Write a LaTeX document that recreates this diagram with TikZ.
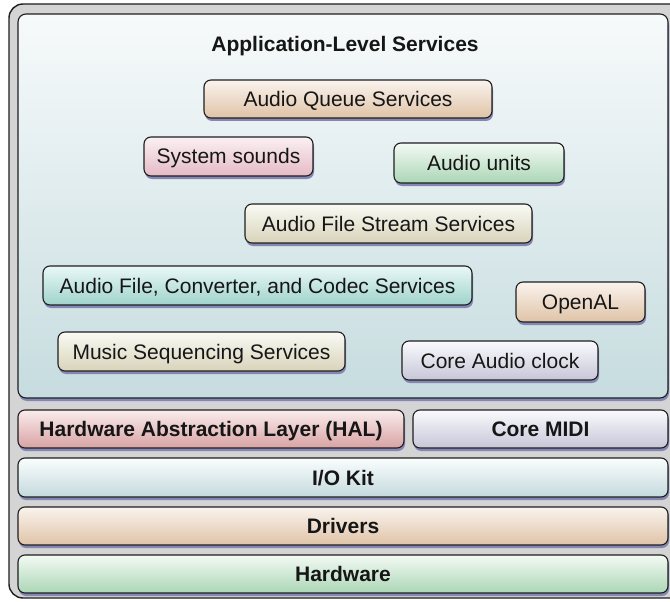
\documentclass[tikz,border=0pt]{standalone}
\usepackage{fontspec}
\setmainfont{Liberation Sans}
\usetikzlibrary{shadows}
\definecolor{txt}{HTML}{161616}
\definecolor{edge}{HTML}{1E1E1E}
\definecolor{shad}{HTML}{8486B4}
\definecolor{outerfill}{HTML}{D4D4D4}
\definecolor{apptop}{HTML}{F7FAFB}
\definecolor{appbot}{HTML}{C6DCDF}
\definecolor{tantop}{HTML}{FAF3EE}
\definecolor{tanbot}{HTML}{DFC3A6}
\definecolor{pinktop}{HTML}{FAF0F3}
\definecolor{pinkbot}{HTML}{E5BAC6}
\definecolor{greentop}{HTML}{F3FAF4}
\definecolor{greenbot}{HTML}{ABD6B5}
\definecolor{khakitop}{HTML}{FAFAF4}
\definecolor{khakibot}{HTML}{D8D3BA}
\definecolor{tealtop}{HTML}{EAF8F7}
\definecolor{tealbot}{HTML}{9FD3CB}
\definecolor{lavtop}{HTML}{FAFAFD}
\definecolor{lavbot}{HTML}{C6C6D8}
\definecolor{redtop}{HTML}{FAECEC}
\definecolor{redbot}{HTML}{D8A2A3}
\definecolor{bluetop}{HTML}{FAFDFD}
\definecolor{bluebot}{HTML}{C4DADE}
\tikzset{
  blob/.style={rounded corners=7pt, draw=edge, line width=1.1pt,
    inner sep=0pt, outer sep=0pt, text=txt, font=\fontsize{21}{24}\selectfont,
    text height=15pt, text depth=0pt,
    drop shadow={shadow xshift=1pt, shadow yshift=-3pt, fill=shad, opacity=1}},
  tan/.style={top color=tantop, bottom color=tanbot},
  pink/.style={top color=pinktop, bottom color=pinkbot},
  green/.style={top color=greentop, bottom color=greenbot},
  khaki/.style={top color=khakitop, bottom color=khakibot},
  teal/.style={top color=tealtop, bottom color=tealbot},
  lav/.style={top color=lavtop, bottom color=lavbot},
  red/.style={top color=redtop, bottom color=redbot},
  blue/.style={top color=bluetop, bottom color=bluebot},
  layer/.style={blob, font=\fontsize{21}{24}\selectfont\bfseries},
}
\begin{document}
\begin{tikzpicture}[x=1pt,y=-1pt]
\useasboundingbox (0,0) rectangle (670,602);
% outer frame
\node[draw=edge, line width=1.4pt, fill=outerfill, rounded corners=14pt,
      minimum width=690pt, minimum height=594pt, inner sep=0pt] (outer) at (354,301) {};
% application-level box
\node[rounded corners=8pt, draw=edge, line width=1.1pt, top color=apptop, bottom color=appbot,
      minimum width=650pt, minimum height=384pt, inner sep=0pt,
      drop shadow={shadow xshift=1pt, shadow yshift=-3pt, fill=shad, opacity=1}] (app) at (343,206) {};
\node[text=txt, font=\fontsize{21}{24}\selectfont\bfseries, inner sep=0pt,
      text height=15pt, text depth=0pt] (title) at (345,44) {Application-Level Services};
% services
\node[blob, tan, minimum width=288pt, minimum height=38pt] (aqs) at (348,99) {Audio Queue Services};
\node[blob, pink, minimum width=169pt, minimum height=39pt] (sys) at (228.5,156.5) {System sounds};
\node[blob, green, minimum width=170pt, minimum height=40pt] (au) at (479,163) {Audio units};
\node[blob, khaki, minimum width=287pt, minimum height=39pt] (afss) at (388.5,223.5) {Audio File Stream Services};
\node[blob, teal, minimum width=429pt, minimum height=39pt] (afcc) at (257.5,285.5) {Audio File, Converter, and Codec Services};
\node[blob, tan, minimum width=129pt, minimum height=40pt] (oal) at (580.5,302) {OpenAL};
\node[blob, khaki, minimum width=287pt, minimum height=39pt] (mss) at (201.5,351.5) {Music Sequencing Services};
\node[blob, lav, minimum width=196pt, minimum height=39pt] (cac) at (500,360.5) {Core Audio clock};
% layers
\node[layer, red, minimum width=386pt, minimum height=38pt] (hal) at (211,429) {Hardware Abstraction Layer (HAL)};
\node[layer, lav, minimum width=255pt, minimum height=38pt] (midi) at (540.5,429) {Core MIDI};
\node[layer, blue, minimum width=650pt, minimum height=39pt] (iokit) at (343,477.5) {I/O Kit};
\node[layer, tan, minimum width=650pt, minimum height=38pt] (drv) at (343,526) {Drivers};
\node[layer, green, minimum width=650pt, minimum height=38pt] (hw) at (343,574) {Hardware};
\end{tikzpicture}
\end{document}
